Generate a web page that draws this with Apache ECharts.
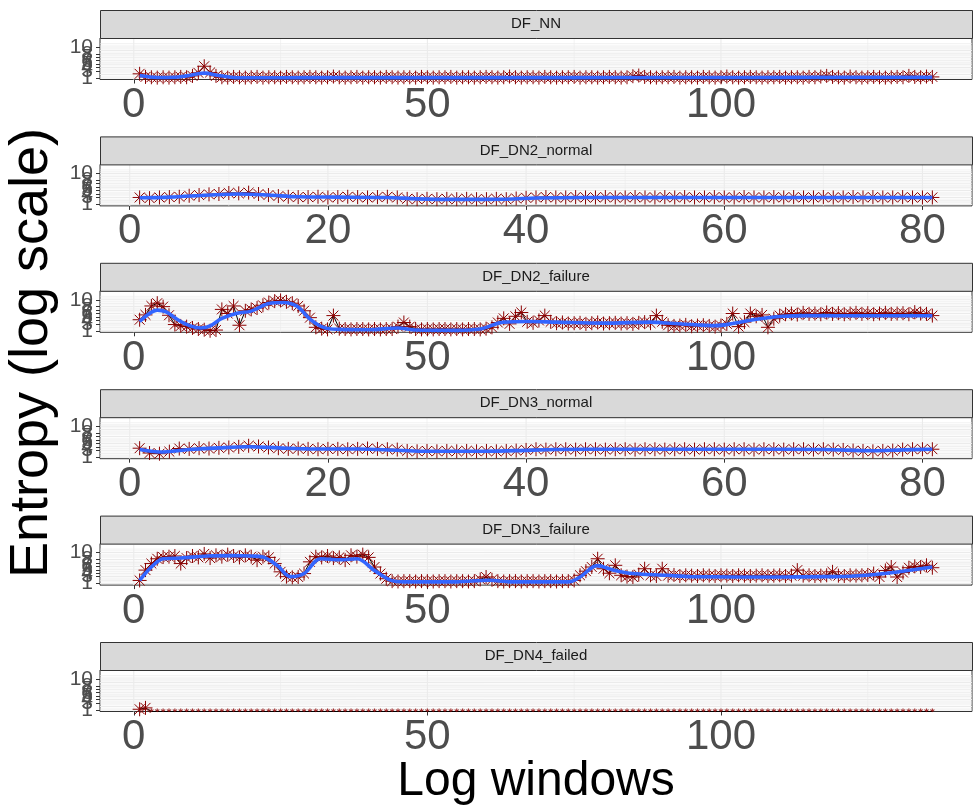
<!DOCTYPE html>
<html><head><meta charset="utf-8">
<script src="https://cdn.jsdelivr.net/npm/echarts@6/dist/echarts.min.js"></script>
<style>html,body{margin:0;padding:0;background:#fff}#c{width:973px;height:808px}</style>
</head><body><div id="c"></div><script>
// ---------------- DATA ----------------
const Z = -Infinity; // zero entropy -> -Inf on the log scale (drawn at the panel edge)

const panelNames = ['DF_NN','DF_DN2_normal','DF_DN2_failure','DF_DN3_normal','DF_DN3_failure','DF_DN4_failed'];

const dfNN = [2.2,1.3,1.2,1.1,1.2,1.1,1.2,1.3,1.2,1.6,
2.5,4.4,2.6,1.6,1.2,1.1,1.3,1.2,1.1,1.2,
1.3,1.1,1.2,1.2,1.1,1.3,1.2,1.1,1.2,1.3,
1.2,1.1,1.2,1.4,1.2,1.1,1.2,1.3,1.1,1.2,
1.2,1.1,1.3,1.2,1.1,1.2,1.2,1.1,1.3,1.2,
1.1,1.2,1.2,1.3,1.1,1.2,1.2,1.1,1.2,1.3,
1.2,1.1,1.2,1.4,1.2,1.1,1.2,1.2,1.1,1.3,
1.2,1.1,1.2,1.2,1.3,1.1,1.2,1.2,1.1,1.2,
1.3,1.2,1.1,1.2,1.5,1.7,1.3,1.2,1.1,1.2,
1.2,1.3,1.1,1.2,1.2,1.1,1.3,1.2,1.1,1.2,
1.4,1.2,1.1,1.2,1.3,1.2,1.1,1.2,1.2,1.3,
1.1,1.2,1.2,1.1,1.3,1.2,1.4,1.6,1.3,1.2,
1.1,1.4,1.2,1.1,1.2,1.3,1.2,1.1,1.2,1.3,
1.2,1.6,1.3,1.2,1.4,1.3];

const dfDN2normal = [3.0,2.8,3.0,3.1,3.2,3.5,3.7,3.9,4.0,4.3,
4.2,4.4,4.0,3.7,3.4,3.2,3.1,3.1,3.2,3.0,
3.1,3.2,3.1,3.0,3.1,3.2,3.0,2.6,2.5,2.6,
2.5,2.6,2.5,2.6,2.5,2.5,2.6,2.5,2.7,2.9,
3.0,3.1,3.0,3.0,3.1,3.0,3.0,3.1,3.0,3.0,
3.1,3.0,3.0,3.1,3.0,3.1,3.0,3.0,3.1,3.0,
3.0,3.1,3.0,3.0,3.1,3.0,3.1,3.0,3.0,3.1,
3.0,3.0,3.1,3.0,3.1,3.0,3.0,3.1,3.0,3.0,
3.0];

const dfDN2failure = [4.2,5.6,8.2,9.0,8.0,5.5,2.8,2.4,2.2,1.8,
1.5,1.3,1.0,1.2,7.2,6.0,8.2,2.6,6.8,7.2,
7.6,8.4,9.2,9.6,9.8,9.4,9.0,8.2,6.8,4.8,
2.0,1.6,1.4,5.4,1.6,1.5,1.4,1.5,1.5,1.4,
1.5,1.4,1.5,1.5,2.2,3.4,2.2,1.5,1.4,1.5,
1.4,1.5,1.5,1.4,1.5,1.4,1.5,1.5,1.4,1.6,
2.0,3.4,4.6,3.0,5.2,6.3,3.6,3.3,4.0,5.4,
3.6,3.2,3.4,3.1,3.2,3.3,3.0,3.2,3.4,3.1,
3.2,3.3,3.1,3.2,3.0,3.3,3.5,3.2,5.4,3.6,
2.6,2.4,2.5,2.7,2.3,2.5,2.6,2.4,2.2,2.5,
3.0,6.0,2.2,3.5,6.0,5.2,5.6,2.0,4.5,5.4,
5.8,6.0,5.7,6.2,5.9,6.0,5.8,6.3,5.9,6.1,
5.8,6.0,6.2,5.9,6.1,5.8,6.0,6.2,5.9,6.0,
6.1,5.8,6.4,6.0,5.9,5.4];

const dfDN3normal = [3.6,2.2,2.0,2.6,3.5,3.4,3.6,3.5,3.7,3.8,
4.0,4.3,4.1,3.8,3.6,3.4,3.5,3.4,3.3,3.4,
3.4,3.3,3.4,3.5,3.4,3.3,3.2,2.8,2.7,2.8,
2.7,2.8,2.7,2.8,2.7,2.8,2.7,2.8,2.9,3.1,
3.3,3.2,3.3,3.3,3.2,3.3,3.3,3.2,3.3,3.3,
3.2,3.3,3.3,3.2,3.3,3.3,3.2,3.3,3.3,3.2,
3.3,3.3,3.2,3.3,3.3,3.2,3.3,3.3,3.2,3.3,
3.2,3.1,2.9,2.8,2.7,2.8,2.9,3.2,3.3,3.3,
3.3];

const dfDN3failure = [1.9,4.9,6.8,8.2,8.7,8.8,9.0,6.8,8.4,9.0,
8.6,9.6,8.4,9.2,8.8,9.4,9.0,8.6,9.2,8.8,
7.8,8.8,8.6,6.8,4.4,3.0,2.8,2.9,3.9,7.3,
8.8,8.6,9.0,8.4,8.6,7.8,9.2,8.8,9.4,8.6,
5.8,3.9,2.4,1.7,1.6,1.7,1.7,1.6,1.7,1.7,
1.6,1.7,1.7,1.6,1.7,1.7,1.6,1.7,2.2,2.9,
2.1,1.7,1.6,1.7,1.7,1.6,1.7,1.7,1.6,1.7,
1.7,1.6,1.7,1.7,1.9,3.4,4.6,5.8,8.2,5.3,
4.0,6.3,3.4,3.0,2.9,3.6,5.3,3.4,3.2,5.3,
3.3,3.5,3.2,3.4,3.3,3.2,3.4,3.3,3.2,3.4,
3.3,3.2,3.4,3.3,3.2,3.3,3.4,3.2,3.3,3.4,
3.2,3.3,4.9,3.3,3.4,3.2,3.3,3.4,4.4,3.3,
3.2,3.4,3.3,3.4,3.5,3.9,2.9,4.8,5.8,2.9,
4.2,5.6,6.0,5.8,6.3,5.6];

const dfDN4failed = [1.2,1.6,Z,Z,Z,Z,Z,Z,Z,Z,
Z,Z,Z,Z,Z,Z,Z,Z,Z,Z, Z,Z,Z,Z,Z,Z,Z,Z,Z,Z, Z,Z,Z,Z,Z,Z,Z,Z,Z,Z,
Z,Z,Z,Z,Z,Z,Z,Z,Z,Z, Z,Z,Z,Z,Z,Z,Z,Z,Z,Z, Z,Z,Z,Z,Z,Z,Z,Z,Z,Z,
Z,Z,Z,Z,Z,Z,Z,Z,Z,Z, Z,Z,Z,Z,Z,Z,Z,Z,Z,Z, Z,Z,Z,Z,Z,Z,Z,Z,Z,Z,
Z,Z,Z,Z,Z,Z,Z,Z,Z,Z, Z,Z,Z,Z,Z,Z,Z,Z,Z,Z, Z,Z,Z,Z,Z,Z,Z,Z,Z,Z,
Z,Z,Z,Z,Z,Z];

// loess smooth curves: [window, entropy]
const smoothNN = [[1,1.7],[4,1.15],[7,1.2],[9,1.6],[12,2.4],[14.5,1.7],[17,1.15],[20,1.05],[30,1.1],[45,1.1],[60,1.1],[75,1.1],[90,1.15],[105,1.15],[120,1.2],[136,1.2]];
const smoothDN2normal = [[1,2.9],[4,3.1],[8,3.7],[11,4.0],[14,3.7],[17,3.2],[21,3.1],[26,3.0],[29,2.6],[33,2.45],[38,2.5],[41,2.85],[46,3.0],[55,3.0],[65,3.0],[75,3.0],[81,3.0]];
const smoothDN2failure = [[1,3.7],[2.5,5.8],[4,7.0],[5.5,6.5],[7.5,4.2],[9.5,2.5],[11.4,1.8],[13,2.4],[15,4.6],[17.6,6.1],[20,6.7],[23,8.9],[25.5,9.2],[27.8,8.1],[30,4.4],[32.4,1.9],[35,1.4],[40,1.3],[45,1.8],[48,1.2],[55,1.1],[59,1.5],[63,3.5],[67,3.7],[72,3.5],[80,3.2],[88,3.5],[92,3.1],[96,2.7],[99,2.5],[102,3.1],[105.5,4.2],[110.5,5.2],[115,5.4],[125,5.35],[136,5.35]];
const smoothDN3normal = [[1,3.2],[3,2.5],[6,3.2],[9,3.7],[12,4.0],[15,3.7],[18,3.4],[23,3.35],[27,3.0],[30,2.7],[35,2.7],[39,2.9],[43,3.2],[50,3.3],[60,3.3],[70,3.2],[75,2.85],[78,3.1],[81,3.3]];
const smoothDN3failure = [[1,1.9],[3,5.8],[5,8.2],[8,8.4],[12.5,9.0],[17,9.1],[20,9.0],[22,8.7],[24.4,6.3],[26.7,3.0],[29,3.9],[31.8,8.2],[35.2,7.9],[38,8.2],[40.9,4.9],[43.7,2.0],[46,1.5],[55,1.5],[60.5,1.95],[64,1.5],[74,1.5],[76,2.9],[78.9,6.2],[81.7,4.9],[85,3.9],[90.8,3.4],[95,3.0],[110,2.9],[118,3.0],[122,3.1],[127.8,3.9],[136,5.8]];
const smoothDN4failed = [];

// axis breaks
const yBreaks = [1,2,3,4,5,6,7,8,9,10];
const yMinorBreaks = [1.5,2.5,3.5,4.5,5.5,6.5,7.5,8.5,9.5,10.5,11];
const xBreaksLong = [0,50,100];
const xMinorLong = [25,75,125];
const xBreaksShort = [0,20,40,60,80];
const xMinorShort = [10,30,50,70];

// ---------------- LAYOUT / STYLE ----------------
const FONT = 'Liberation Sans';
const LEFT = 100, RIGHT = 1, TOP0 = 38, STEP = 126.4, PH = 41.5, STRIP_H = 28;
const Y_MIN = 0.55, Y_MAX = 12.6;
const LONG = {min:-5.75, max:142.75, major:xBreaksLong, minor:xMinorLong};
const SHORT = {min:-3, max:85, major:xBreaksShort, minor:xMinorShort};

const panels = [
  {data: dfNN, smooth: smoothNN, xs: LONG},
  {data: dfDN2normal, smooth: smoothDN2normal, xs: SHORT},
  {data: dfDN2failure, smooth: smoothDN2failure, xs: LONG},
  {data: dfDN3normal, smooth: smoothDN3normal, xs: SHORT},
  {data: dfDN3failure, smooth: smoothDN3failure, xs: LONG},
  {data: dfDN4failed, smooth: smoothDN4failed, xs: LONG}
];

const STAR = 'path://M0,-10L0,10M-10,0L10,0M-7.07,-7.07L7.07,7.07M-7.07,7.07L7.07,-7.07';
const HALFSTAR = 'path://M0,0L0,-10M-7.07,-7.07L0,0L7.07,-7.07';

const grids = [], xAxes = [], yAxes = [], series = [], graphics = [];

panels.forEach((p, i) => {
  const top = TOP0 + i * STEP;
  grids.push({left: LEFT, right: RIGHT, top: top, height: PH, show: true,
    backgroundColor: '#fff', borderColor: '#333333', borderWidth: 1, containLabel: false});
  xAxes.push({type: 'value', gridIndex: i, min: p.xs.min, max: p.xs.max,
    axisLine: {show: false, onZero: false}, splitLine: {show: false},
    axisTick: {show: true, length: 4, customValues: p.xs.major, lineStyle: {color: '#333333', width: 1}},
    axisLabel: {customValues: p.xs.major, fontSize: 42, color: '#4D4D4D', fontFamily: FONT, margin: 5, lineHeight: 42, hideOverlap: false}
  });
  yAxes.push({type: 'value', gridIndex: i, min: Y_MIN, max: Y_MAX,
    axisLine: {show: false, onZero: false}, splitLine: {show: false},
    axisTick: {show: true, length: 4, customValues: yBreaks, lineStyle: {color: '#333333', width: 1}},
    axisLabel: {customValues: yBreaks, fontSize: 21, color: '#4D4D4D', fontFamily: FONT, margin: 7,
      hideOverlap: false, showMinLabel: true, showMaxLabel: true}
  });

  // grid lines (ggplot theme_bw): [direction, value, width]
  const gl = [];
  p.xs.minor.forEach(v => gl.push([0, v, 0.6]));
  yMinorBreaks.forEach(v => gl.push([1, v, 0.6]));
  p.xs.major.forEach(v => gl.push([0, v, 1.1]));
  yBreaks.forEach(v => gl.push([1, v, 1.1]));
  const xMin = p.xs.min;
  series.push({type: 'custom', xAxisIndex: i, yAxisIndex: i, silent: true, z: 1, animation: false,
    data: gl,
    encode: {x: 1, y: 1},
    renderItem: (params, api) => {
      const cs = params.coordSys;
      const dir = api.value(0), v = api.value(1), w = api.value(2);
      let shape;
      if (dir === 0) {
        const x = api.coord([v, Y_MIN])[0];
        shape = {x1: x, y1: cs.y, x2: x, y2: cs.y + cs.height};
      } else {
        const y = api.coord([xMin, v])[1];
        shape = {x1: cs.x, y1: y, x2: cs.x + cs.width, y2: y};
      }
      return {type: 'line', shape: shape, style: {stroke: '#EBEBEB', lineWidth: w}};
    }
  });

  const pts = p.data.map((v, k) => [k + 1, v]);
  // black connecting line (-Inf drawn at the panel's lower edge)
  series.push({type: 'line', xAxisIndex: i, yAxisIndex: i, z: 2, animation: false, silent: true,
    symbol: 'none', clip: true,
    data: pts.map(([x, v]) => [x, Math.max(v, Y_MIN)]),
    lineStyle: {color: '#000000', width: 1}});
  // asterisk points
  series.push({type: 'scatter', xAxisIndex: i, yAxisIndex: i, z: 3, animation: false, silent: true,
    symbol: STAR, symbolSize: 14,
    data: pts.filter(d => isFinite(d[1])),
    itemStyle: {color: 'rgba(0,0,0,0)', borderColor: '#8B0000', borderWidth: 1, opacity: 1}});
  // points at -Inf: only the upper part of the asterisk is visible above the panel edge
  series.push({type: 'scatter', xAxisIndex: i, yAxisIndex: i, z: 3, animation: false, silent: true,
    symbol: HALFSTAR, symbolSize: [4, 3], symbolOffset: [0, -1.5],
    data: pts.filter(d => !isFinite(d[1])).map(([x]) => [x, Y_MIN]),
    itemStyle: {color: 'rgba(0,0,0,0)', borderColor: '#8B0000', borderWidth: 1}});
  // loess smooth
  series.push({type: 'line', xAxisIndex: i, yAxisIndex: i, z: 4, animation: false, silent: true,
    symbol: 'none', smooth: 0.35, clip: true,
    data: p.smooth,
    lineStyle: {color: '#3366FF', width: 3.6}});

  // facet strip
  graphics.push({type: 'rect', left: LEFT, top: top - STRIP_H, z: 10,
    shape: {width: 973 - LEFT - RIGHT, height: STRIP_H},
    style: {fill: '#D9D9D9', stroke: '#333333', lineWidth: 1}});
  graphics.push({type: 'text', z: 11, x: LEFT + (973 - LEFT - RIGHT) / 2, y: top - STRIP_H / 2,
    style: {text: panelNames[i], fill: '#1A1A1A', font: '15px "' + FONT + '"', textAlign: 'center', textVerticalAlign: 'middle'}});
});

graphics.push({type: 'text', x: LEFT + (973 - LEFT - RIGHT) / 2, y: 782,
  style: {text: 'Log windows', fill: '#000', font: '48px "' + FONT + '"', textAlign: 'center', textVerticalAlign: 'middle'}});
graphics.push({type: 'text', x: 32, y: 353, rotation: Math.PI / 2,
  style: {text: 'Entropy (log scale)', fill: '#000', font: '54px "' + FONT + '"', textAlign: 'center', textVerticalAlign: 'middle'}});

const chart = echarts.init(document.getElementById('c'), null, {renderer: 'canvas'});
chart.setOption({
  animation: false,
  backgroundColor: '#ffffff',
  grid: grids, xAxis: xAxes, yAxis: yAxes, series: series, graphic: graphics
});
</script></body></html>
